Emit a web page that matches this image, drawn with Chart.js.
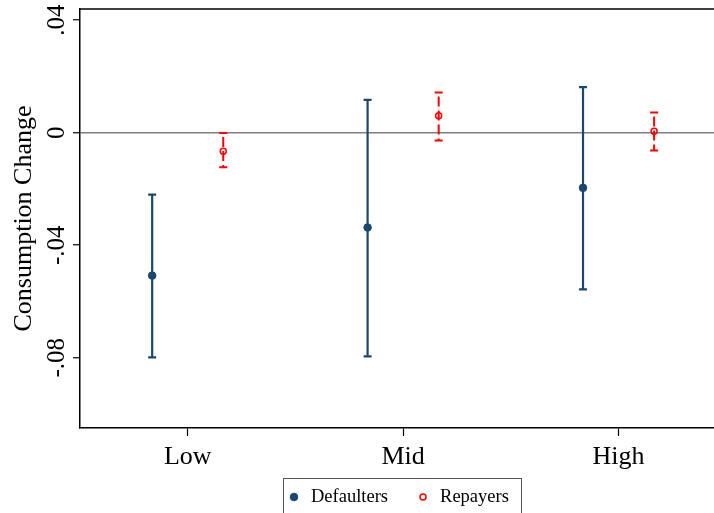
<!DOCTYPE html>
<html>
<head>
<meta charset="utf-8">
<script src="https://cdn.jsdelivr.net/npm/chart.js@4.4.0/dist/chart.umd.min.js"></script>
<style>
  html, body { margin: 0; padding: 0; background: #fff; }
  #wrap { width: 714px; height: 513px; }
</style>
</head>
<body>
<div id="wrap"><canvas id="chart"></canvas></div>
<script>
const categories = ['Low', 'Mid', 'High'];
const defaulters = [-0.0508, -0.0337, -0.0196];
const defaultersLow = [-0.0799, -0.0795, -0.0557];
const defaultersHigh = [-0.0220, 0.0117, 0.0162];
const repayers = [-0.0066, 0.0060, 0.0005];
const repayersLow = [-0.0123, -0.0028, -0.0063];
const repayersHigh = [-0.0001, 0.0143, 0.0072];
const yTicks = [-0.08, -0.04, 0, 0.04];

const SHIFT = 0.165;
const SERIF = "'Liberation Serif', 'Times New Roman', serif";
const NAVY = '#1a476f';
const RED = '#ff0000';

const toPoints = (vals, lo, hi, shift) =>
  vals.map((v, i) => ({ x: i + shift, y: v, lo: lo[i], hi: hi[i] }));

const fmtTick = v => v === 0 ? '0' : (v < 0 ? '-' : '') + String(Math.abs(v)).replace(/^0/, '');

const errorBars = {
  id: 'errorBars',
  beforeDatasetsDraw(chart) {
    const { ctx, scales: { x, y } } = chart;
    chart.data.datasets.forEach(ds => {
      ctx.save();
      ctx.strokeStyle = ds.borderColor;
      ctx.lineWidth = ds.barWidth;
      ds.data.forEach(p => {
        const px = x.getPixelForValue(p.x);
        const yl = y.getPixelForValue(p.lo);
        const yh = y.getPixelForValue(p.hi);
        ctx.setLineDash(ds.barDash);
        ctx.lineDashOffset = ds.barDash.length ? ds.barDash[0] : 0;
        ctx.beginPath();
        ctx.moveTo(px, yh);
        ctx.lineTo(px, yl);
        ctx.stroke();
        ctx.setLineDash([]);
        ctx.beginPath();
        ctx.moveTo(px - 4, yh); ctx.lineTo(px + 4, yh);
        ctx.moveTo(px - 4, yl); ctx.lineTo(px + 4, yl);
        ctx.stroke();
      });
      ctx.restore();
    });
  }
};

const frame = {
  id: 'frame',
  afterDraw(chart) {
    const { ctx, chartArea: a, scales: { y } } = chart;
    ctx.save();
    // top outline of the plot region
    ctx.strokeStyle = '#000';
    ctx.lineWidth = 1.5;
    ctx.beginPath();
    ctx.moveTo(a.left, a.top);
    ctx.lineTo(a.right, a.top);
    ctx.stroke();

    // vertical y tick labels
    ctx.fillStyle = '#000';
    ctx.font = '25px ' + SERIF;
    ctx.textAlign = 'center';
    ctx.textBaseline = 'middle';
    yTicks.forEach(v => {
      ctx.save();
      ctx.translate(57, y.getPixelForValue(v));
      ctx.rotate(-Math.PI / 2);
      ctx.fillText(fmtTick(v), 0, 0);
      ctx.restore();
    });

    // boxed legend below the axis
    const cy = 497;
    ctx.font = '18.5px ' + SERIF;
    ctx.textAlign = 'left';
    let x0 = 294;
    chart.data.datasets.forEach(ds => {
      ctx.beginPath();
      ctx.arc(x0, cy, ds.pointRadius, 0, Math.PI * 2);
      ctx.fillStyle = ds.backgroundColor;
      ctx.fill();
      ctx.lineWidth = ds.borderWidth;
      ctx.strokeStyle = ds.borderColor;
      ctx.stroke();
      ctx.fillStyle = '#000';
      ctx.fillText(ds.label, x0 + 17, cy);
      x0 += 17 + ctx.measureText(ds.label).width + 35;
    });
    ctx.strokeStyle = '#555';
    ctx.lineWidth = 1;
    ctx.strokeRect(283.5, 478.5, 238, 40);
    ctx.restore();
  }
};

new Chart(document.getElementById('chart'), {
  type: 'scatter',
  data: {
    datasets: [
      {
        label: 'Defaulters',
        data: toPoints(defaulters, defaultersLow, defaultersHigh, -SHIFT),
        backgroundColor: NAVY,
        borderColor: NAVY,
        borderWidth: 1,
        pointRadius: 3.8,
        pointHoverRadius: 3.8,
        barWidth: 2.2,
        barDash: []
      },
      {
        label: 'Repayers',
        data: toPoints(repayers, repayersLow, repayersHigh, SHIFT),
        backgroundColor: 'rgba(0,0,0,0)',
        borderColor: RED,
        borderWidth: 1.5,
        pointRadius: 3,
        pointHoverRadius: 3,
        barWidth: 2,
        barDash: [10, 4]
      }
    ]
  },
  options: {
    responsive: true,
    maintainAspectRatio: false,
    animation: false,
    layout: { autoPadding: false, padding: { top: 9, right: 0, left: 0, bottom: 0 } },
    plugins: {
      legend: { display: false },
      tooltip: { enabled: false }
    },
    scales: {
      x: {
        type: 'linear',
        min: -0.5,
        max: 2.443,
        afterBuildTicks: s => { s.ticks = categories.map((c, i) => ({ value: i })); },
        afterFit: s => { s.height = 85; s.paddingRight = 0; s.paddingLeft = 0; },
        ticks: {
          callback: v => categories[v],
          color: '#000',
          font: { family: SERIF, size: 26 },
          padding: 6,
          maxRotation: 0,
          autoSkip: false
        },
        grid: { color: 'rgba(0,0,0,0)', tickColor: '#000', tickLength: 8, tickWidth: 1.2 },
        border: { color: '#000', width: 1.5 }
      },
      y: {
        min: -0.105,
        max: 0.044,
        afterBuildTicks: s => { s.ticks = yTicks.map(v => ({ value: v })); },
        afterFit: s => { s.width = 80; },
        ticks: { display: false },
        grid: {
          color: c => (c.tick && c.tick.value === 0 ? '#808080' : 'rgba(0,0,0,0)'),
          lineWidth: 1.5,
          tickColor: '#000',
          tickLength: 7,
          tickWidth: 1.2
        },
        border: { color: '#000', width: 1.5 },
        title: {
          display: true,
          text: 'Consumption Change',
          color: '#000',
          font: { family: SERIF, size: 26 },
          padding: { top: 9, bottom: 0 }
        }
      }
    }
  },
  plugins: [errorBars, frame]
});
</script>
</body>
</html>
